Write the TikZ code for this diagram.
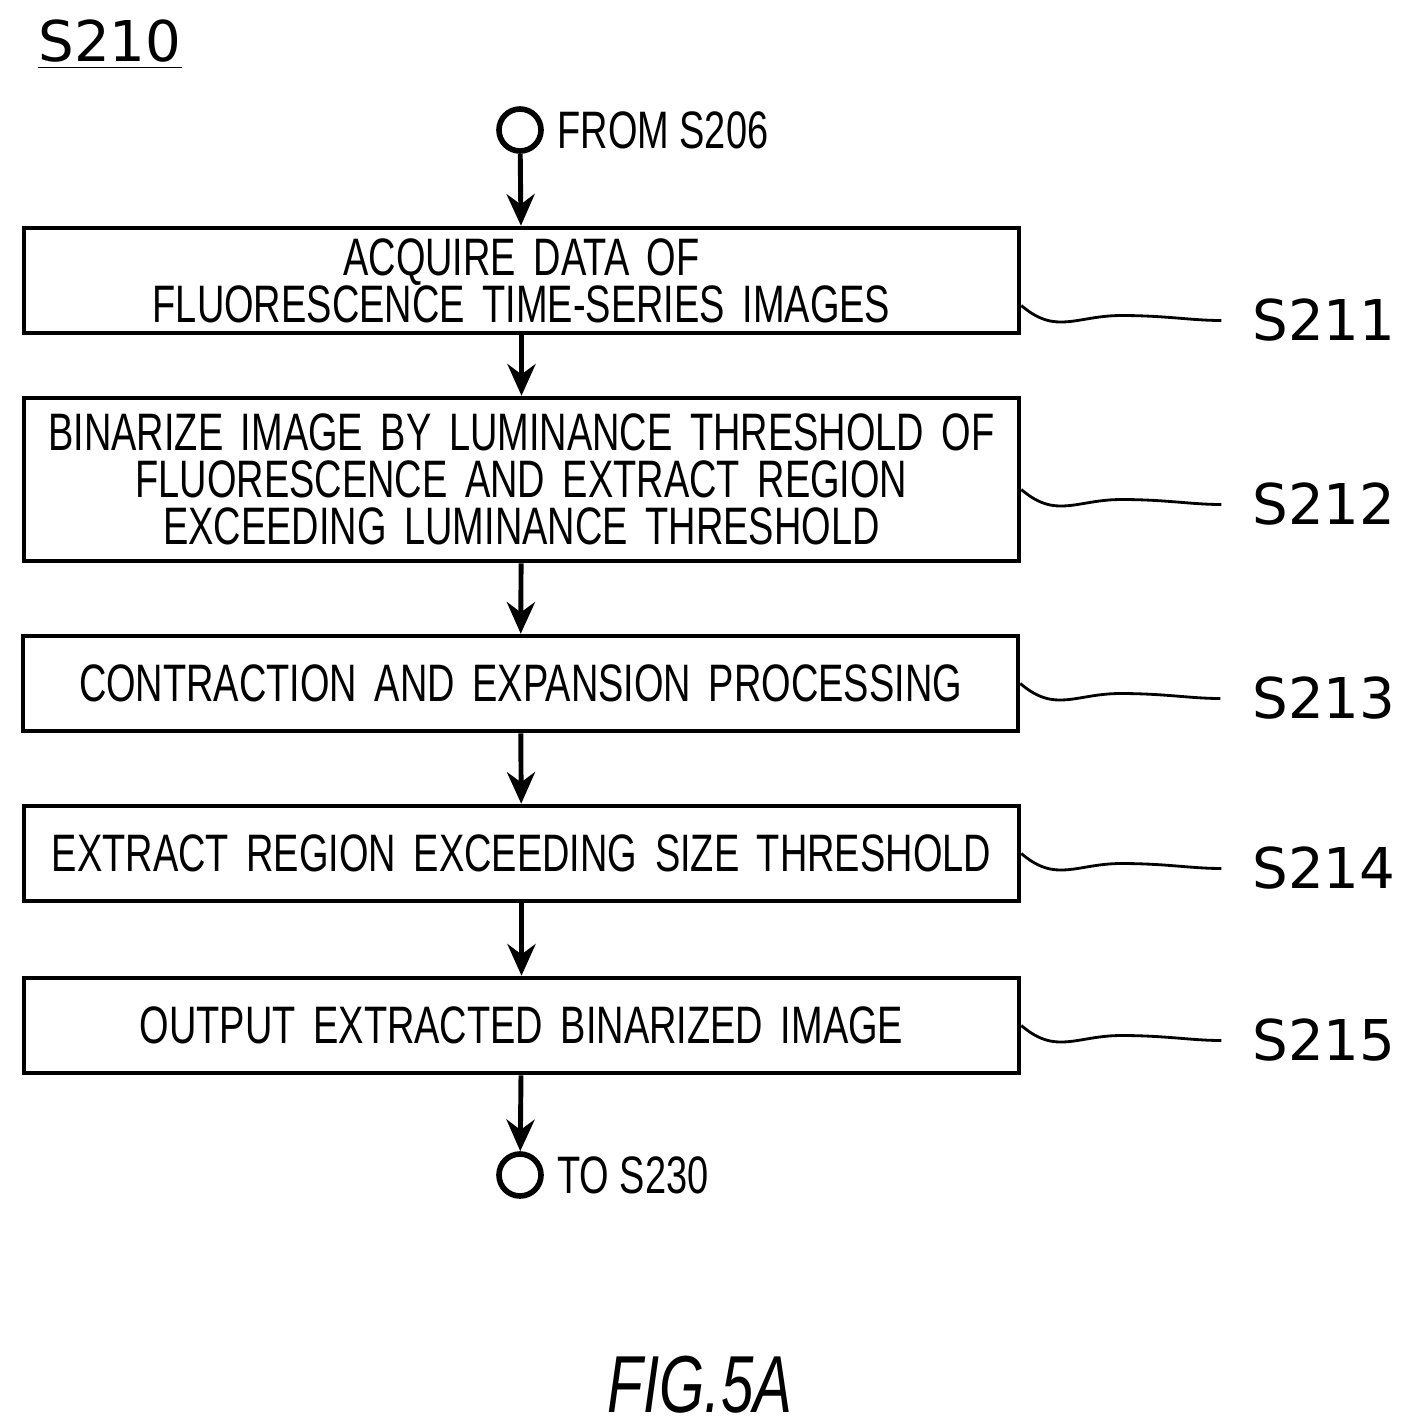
\documentclass[tikz,border=0pt]{standalone}
\usepackage{fontspec}
\setmainfont[FakeStretch=0.72]{Liberation Sans}
\newfontfamily\labfont{DejaVu Sans}
\usetikzlibrary{arrows.meta, positioning}
\tikzset{
  procbox/.style={draw, line width=1.3pt, text width=9.95cm, align=center, font=\fontsize{15}{13.4}\selectfont, inner sep=0pt},
  term/.style={draw, circle, line width=1.6pt, minimum size=0.42cm, inner sep=0pt},
  termlab/.style={anchor=west, font=\fontsize{15}{17}\selectfont},
  flow/.style={-{Stealth[length=9pt,width=8pt]}, line width=1.4pt},
  squig/.style={line width=0.8pt},
  steplab/.style={anchor=west, font=\labfont\fontsize{16}{18}\selectfont}
}
\newcommand{\squiggle}[3]{%
  \draw[squig] (#1.east) ++(0,#3) coordinate (#2s) .. controls +(0.35,-0.3) and +(-0.45,0) .. ++(1.0,-0.1)
    .. controls +(0.45,0) and +(-0.3,0) .. ++(1.0,-0.05) coordinate (#2e);
  \node[steplab] (#2l) at (12.4,0 |- #2e) {#2};}
\begin{document}
\begin{tikzpicture}
  \useasboundingbox (0,0) rectangle (14.04,-14.28);
  % title
  \node[font=\labfont\fontsize{16}{18}\selectfont] (title) at (1.1,-0.45) {\underline{S210}};
  % nodes
  \node[term] (start) at (5.2,-1.3) {};
  \node[termlab] (startlab) at (5.45,-1.3) {FROM S206};
  \node[procbox, minimum height=1.05cm] (s211) at (5.215,-2.805) {ACQUIRE DATA OF\\FLUORESCENCE TIME-SERIES IMAGES};
  \node[procbox, minimum height=1.63cm] (s212) at (5.215,-4.795) {BINARIZE IMAGE BY LUMINANCE THRESHOLD OF\\FLUORESCENCE AND EXTRACT REGION\\EXCEEDING LUMINANCE THRESHOLD};
  \node[procbox, minimum height=0.95cm] (s213) at (5.205,-6.835) {CONTRACTION AND EXPANSION PROCESSING};
  \node[procbox, minimum height=0.95cm] (s214) at (5.215,-8.535) {EXTRACT REGION EXCEEDING SIZE THRESHOLD};
  \node[procbox, minimum height=0.95cm] (s215) at (5.215,-10.255) {OUTPUT EXTRACTED BINARIZED IMAGE};
  \node[term] (stop) at (5.2,-11.75) {};
  \node[termlab] (stoplab) at (5.45,-11.75) {TO S230};
  \node[font=\itshape\fontsize{23}{25}\selectfont] (fig) at (7.0,-13.85) {FIG.5A};

  % edges
  \draw[flow] (start) -- (s211);
  \draw[flow] (s211) -- (s212);
  \draw[flow] (s212) -- (s213);
  \draw[flow] (s213) -- (s214);
  \draw[flow] (s214) -- (s215);
  \draw[flow] (s215) -- (stop);

  % step labels
  \squiggle{s211}{S211}{-0.25}
  \squiggle{s212}{S212}{-0.1}
  \squiggle{s213}{S213}{0}
  \squiggle{s214}{S214}{0}
  \squiggle{s215}{S215}{0}
\end{tikzpicture}
\end{document}
